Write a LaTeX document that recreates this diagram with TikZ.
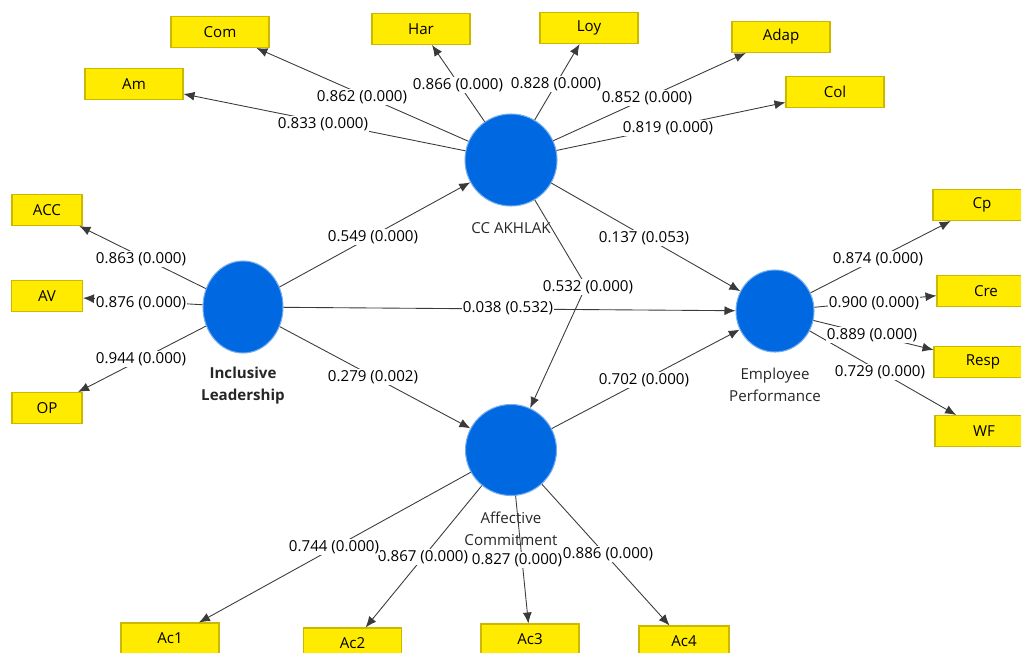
\documentclass[tikz,border=0pt]{standalone}
\usepackage{fontspec}
\setmainfont{Open Sans}
\usetikzlibrary{arrows.meta,shapes.geometric}
\definecolor{plsblue}{HTML}{0068E0}
\definecolor{indyellow}{HTML}{FFEB00}
\definecolor{indedge}{HTML}{CDB800}
\definecolor{arrgray}{HTML}{3A3A3A}

\begin{document}
\begin{tikzpicture}[font=\fontsize{8.6}{10.5}\selectfont,
  lv/.style={ellipse, fill=plsblue, draw=plsblue!55!white, line width=0.6pt, inner sep=0pt},
  ind/.style={draw=indedge, fill=indyellow, line width=0.6pt, minimum width=1.96cm, minimum height=0.62cm, inner sep=0pt},
  arr/.style={-{Latex[length=2.2mm,width=1.8mm]}, draw=arrgray, line width=0.5pt},
  lab/.style={fill=white, inner sep=0.7pt},
  lvcap/.style={align=center, text=black!85, font=\fontsize{8.6}{12.5}\selectfont}]
\useasboundingbox (0,0) rectangle (20.42,-13.04);
\clip (0,0) rectangle (20.42,-13.04);
% latent variables
\node[lv, minimum width=1.84cm, minimum height=1.84cm] (cc) at (10.22,-3.20) {};
\node[lv, minimum width=1.60cm, minimum height=1.84cm] (il) at (4.86,-6.14) {};
\node[lv, minimum width=1.56cm, minimum height=1.64cm] (ep) at (15.50,-6.22) {};
\node[lv, minimum width=1.82cm, minimum height=1.82cm] (ac) at (10.22,-9.00) {};
\node[lvcap] (cccap) at (10.22,-4.56) {CC AKHLAK};
\node[lvcap, font=\fontsize{8.6}{12.5}\selectfont\bfseries] (ilcap) at (4.86,-7.72) {Inclusive\\Leadership};
\node[lvcap] (epcap) at (15.50,-7.70) {Employee\\Performance};
\node[lvcap] (accap) at (10.22,-10.58) {Affective\\Commitment};
% indicators
\node[ind] (com) at (4.40,-0.64) {Com};
\node[ind] (har) at (8.42,-0.58) {Har};
\node[ind] (am) at (2.68,-1.68) {Am};
\node[ind] (loy) at (11.78,-0.56) {Loy};
\node[ind] (adap) at (15.62,-0.74) {Adap};
\node[ind] (col) at (16.70,-1.84) {Col};
\node[ind, minimum width=1.40cm] (acc) at (0.94,-4.20) {ACC};
\node[ind, minimum width=1.42cm] (av) at (0.94,-5.92) {AV};
\node[ind, minimum width=1.40cm] (op) at (0.94,-8.16) {OP};
\node[ind] (cp) at (19.64,-4.10) {Cp};
\node[ind] (cre) at (19.72,-5.82) {Cre};
\node[ind] (resp) at (19.66,-7.24) {Resp};
\node[ind] (wf) at (19.68,-8.62) {WF};
\node[ind] (ac1) at (3.40,-12.77) {Ac1};
\node[ind] (ac2) at (7.05,-12.87) {Ac2};
\node[ind] (ac3) at (10.60,-12.79) {Ac3};
\node[ind, minimum width=1.80cm] (ac4) at (13.68,-12.83) {Ac4};
% outer loadings
\draw[arr] (cc) -- (com); \draw[arr] (cc) -- (am); \draw[arr] (cc) -- (har);
\draw[arr] (cc) -- (loy); \draw[arr] (cc) -- (adap); \draw[arr] (cc) -- (col);
\draw[arr] (il) -- (acc); \draw[arr] (il) -- (av); \draw[arr] (il) -- (op);
\draw[arr] (ep) -- (cp); \draw[arr] (ep) -- (cre); \draw[arr] (ep) -- (resp); \draw[arr] (ep) -- (wf);
\draw[arr] (ac) -- (ac1); \draw[arr] (ac) -- (ac2); \draw[arr] (ac) -- (ac3); \draw[arr] (ac) -- (ac4);
% path coefficients
\coordinate (bend) at (11.72,-5.72);
\draw[arr] (il) -- (cc); \draw[arr] (il) -- (ep); \draw[arr] (il) -- (ac);
\draw[arr] (cc) -- (ep); \draw[arr] (ac) -- (ep);
\draw[arr] (cc) -- (bend) -- (ac);
% labels
\node[lab] (l1) at (7.24,-1.94) {0.862 (0.000)};
\node[lab] (l2) at (6.46,-2.48) {0.833 (0.000)};
\node[lab] (l3) at (9.16,-1.70) {0.866 (0.000)};
\node[lab] (l4) at (11.12,-1.68) {0.828 (0.000)};
\node[lab] (l5) at (12.94,-1.96) {0.852 (0.000)};
\node[lab] (l6) at (13.36,-2.56) {0.819 (0.000)};
\node[lab] (l7) at (7.46,-4.74) {0.549 (0.000)};
\node[lab] (l8) at (2.82,-5.18) {0.863 (0.000)};
\node[lab] (l9) at (2.82,-6.06) {0.876 (0.000)};
\node[lab] (l10) at (2.82,-7.18) {0.944 (0.000)};
\node[lab] (l11) at (7.46,-7.54) {0.279 (0.002)};
\node[lab] (l12) at (10.16,-6.16) {0.038 (0.532)};
\node[lab] (l13) at (12.88,-4.76) {0.137 (0.053)};
\node[lab] (l14) at (11.76,-5.74) {0.532 (0.000)};
\node[lab] (l15) at (17.56,-5.18) {0.874 (0.000)};
\node[lab] (l16) at (17.48,-6.06) {0.900 (0.000)};
\node[lab] (l17) at (17.44,-6.70) {0.889 (0.000)};
\node[lab] (l18) at (17.60,-7.44) {0.729 (0.000)};
\node[lab] (l19) at (12.88,-7.60) {0.702 (0.000)};
\node[lab] (l20) at (8.46,-11.14) {0.867 (0.000)};
\node[lab] (l21) at (6.68,-10.94) {0.744 (0.000)};
\node[lab] (l22) at (10.34,-11.20) {0.827 (0.000)};
\node[lab] (l23) at (12.16,-11.08) {0.886 (0.000)};
\end{tikzpicture}
\end{document}
